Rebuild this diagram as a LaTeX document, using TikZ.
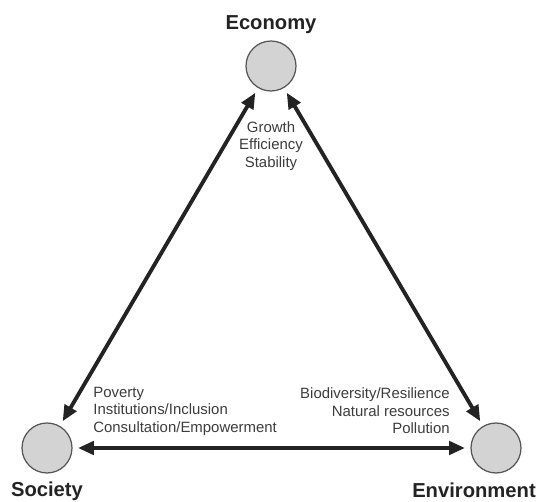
\documentclass[tikz,border=0pt]{standalone}
\usepackage{fontspec}
\setmainfont{Liberation Sans}
\usetikzlibrary{arrows.meta,positioning}
\definecolor{pillarG}{RGB}{211,211,211}
\definecolor{rimG}{RGB}{85,85,85}
\definecolor{inkG}{RGB}{35,35,35}
\definecolor{listG}{RGB}{60,60,60}

\begin{document}
\begin{tikzpicture}[x=0.02cm, y=-0.02cm,
    pillar/.style={circle, draw=rimG, fill=pillarG, line width=0.7pt,
      minimum size=1cm, inner sep=0pt, outer sep=0.12cm},
    pillarname/.style={font=\fontsize{11.5}{13}\selectfont\bfseries, text=inkG, anchor=base},
    aspects/.style={font=\fontsize{8.5}{10}\selectfont, text=listG, inner sep=0pt},
    link/.style={{Triangle[length=9pt,width=7.5pt]}-{Triangle[length=9pt,width=7.5pt]},
      line width=2.2pt, inkG}]
  \useasboundingbox (0,0) rectangle (542,502);
  % the three pillars, pixel coordinates with y pointing down
  \node[pillar] (econ) at (271,66) {};
  \node[pillar] (soc) at (47,448) {};
  \node[pillar] (env) at (496,448) {};
  \node[pillarname] (econname) at (271,30) {Economy};
  \node[pillarname] (socname) at (47,497) {Society};
  \node[pillarname] (envname) at (474,498) {Environment};
  % two-way links between the pillars
  \draw[link] (econ) -- (soc);
  \draw[link] (econ) -- (env);
  \draw[link] (soc) -- (env);
  % what each pillar stands for
  \node[aspects, align=center] (econlist) at (271,146)
     {Growth\\ Efficiency\\ Stability};
  \node[aspects, align=left, anchor=west] (soclist) at (93,411)
     {Poverty\\ Institutions/Inclusion\\ Consultation/Empowerment};
  \node[aspects, align=right, anchor=east] (envlist) at (450,411)
     {Biodiversity/Resilience\\ Natural resources\\ Pollution};
\end{tikzpicture}
\end{document}
